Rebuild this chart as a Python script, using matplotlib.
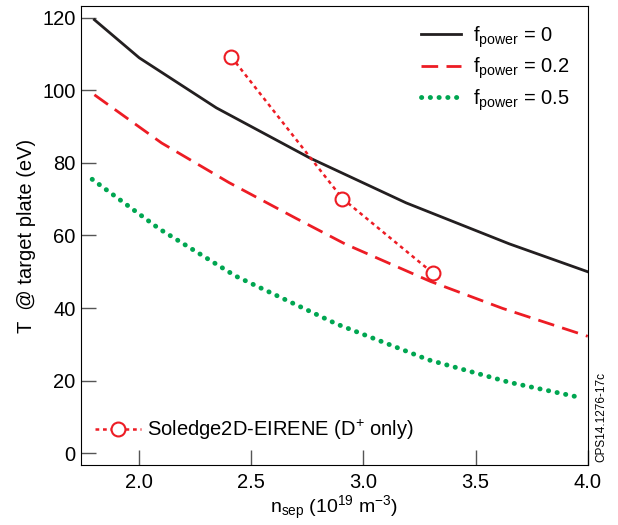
import matplotlib
matplotlib.use('Agg')
import matplotlib.pyplot as plt

plt.rcParams['font.family'] = ['Liberation Sans', 'DejaVu Sans']
plt.rcParams['mathtext.fontset'] = 'custom'
plt.rcParams['mathtext.rm'] = 'Liberation Sans'
plt.rcParams['mathtext.it'] = 'Liberation Sans'

# 模型曲线
n0 = [1.80, 2.00, 2.344, 2.76, 3.19, 3.65, 4.00]
t0 = [119.5, 109.0, 95.2, 81.4, 69.0, 57.7, 50.0]

n02 = [1.80, 2.10, 2.40, 2.70, 2.92, 3.30, 3.62, 4.00]
t02 = [98.8, 85.5, 74.6, 64.7, 57.6, 47.3, 39.9, 32.2]

n05 = [1.79, 2.09, 2.43, 2.88, 3.29, 3.65, 3.96]
t05 = [75.5, 61.8, 48.8, 35.6, 25.7, 19.5, 15.4]

# Soledge2D-EIRENE 结果
n_sol = [2.41, 2.906, 3.31]
t_sol = [109.3, 70.2, 49.6]

red = '#ED1C24'
green = '#00A651'
black = '#231F20'

fig = plt.figure(figsize=(6.18, 5.25), dpi=100)
ax = fig.add_axes([0.131, 0.1143, 0.82, 0.8743])

l1, = ax.plot(n0, t0, color=black, lw=2.0, label=r'f$_{\mathrm{power}}$ = 0')
l2, = ax.plot(n02, t02, color=red, lw=2.0, linestyle=(0, (6, 3)), label=r'f$_{\mathrm{power}}$ = 0.2')
l3, = ax.plot(n05, t05, color=green, lw=3.5, linestyle=(0, (0.05, 1.75)),
              dash_capstyle='round', label=r'f$_{\mathrm{power}}$ = 0.5')
l4, = ax.plot(n_sol, t_sol, color=red, lw=1.8, linestyle=(0, (1.5, 1.5)),
              marker='o', markersize=10, markerfacecolor='white',
              markeredgecolor=red, markeredgewidth=1.5,
              label=r'Soledge2D-EIRENE (D$^{+}$ only)')

ax.set_xlim(1.74, 4.0)
ax.set_ylim(-3.3, 123.3)
ax.set_xticks([2.0, 2.5, 3.0, 3.5, 4.0])
ax.set_xticklabels(['2.0', '2.5', '3.0', '3.5', '4.0'])
ax.set_yticks([0, 20, 40, 60, 80, 100, 120])
ax.tick_params(direction='in', length=11, width=1.0, labelsize=14.5, color='#555555')
ax.tick_params(axis='x', pad=6)
ax.tick_params(axis='y', pad=4)

ax.set_xlabel(r'n$_{\mathrm{sep}}$ (10$^{\mathrm{19}}$ m$^{-3}$)', fontsize=14, labelpad=1)
ax.set_ylabel('T  @ target plate (eV)', fontsize=14.5, labelpad=4)

leg1 = ax.legend(handles=[l1, l2, l3], loc='upper right', frameon=False, fontsize=14.5,
                 handlelength=2.0, handletextpad=0.6, labelspacing=0.3, borderaxespad=0.5)
ax.add_artist(leg1)
ax.legend(handles=[l4], loc='lower left', frameon=False, fontsize=14.5,
          handlelength=2.3, handletextpad=0.3, borderaxespad=0.3, bbox_to_anchor=(0.0, 0.02))

fig.text(0.963, 0.12, 'CPS14.1276-17c', rotation=90, fontsize=8.5, ha='left', va='bottom')

plt.savefig('out.png', dpi=100)
